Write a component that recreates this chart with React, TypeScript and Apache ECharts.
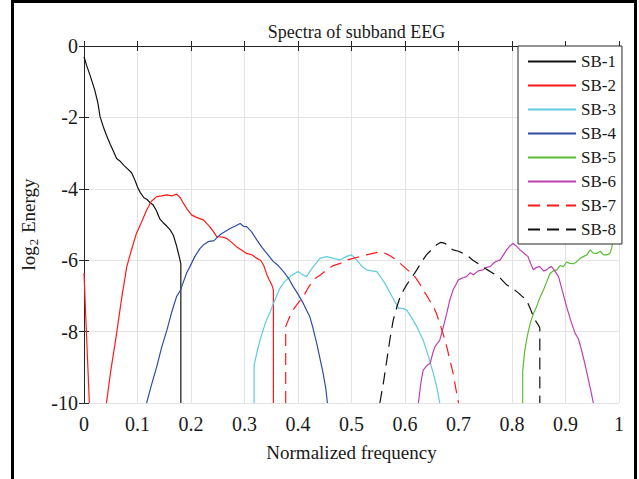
import React, { useEffect, useRef } from "react";
import * as echarts from "echarts";

const seriesNames = ["SB-1", "SB-2", "SB-3", "SB-4", "SB-5", "SB-6", "SB-7", "SB-8"];
const xTicks = [0, 0.1, 0.2, 0.3, 0.4, 0.5, 0.6, 0.7, 0.8, 0.9, 1];
const yTicks = [-10, -8, -6, -4, -2, 0];

const sb1X = [0, 0.005, 0.012, 0.02, 0.026, 0.03, 0.036, 0.042, 0.049, 0.055, 0.061, 0.067, 0.075, 0.082, 0.089, 0.095, 0.1, 0.105, 0.112, 0.118, 0.124, 0.129, 0.135, 0.142, 0.148, 0.155, 0.161, 0.167, 0.173, 0.178, 0.181, 0.181];
const sb1Y = [-0.3, -0.55, -0.85, -1.23, -1.6, -1.98, -2.26, -2.5, -2.75, -2.95, -3.15, -3.22, -3.35, -3.45, -3.55, -3.75, -3.95, -4.1, -4.25, -4.3, -4.4, -4.45, -4.6, -4.85, -4.95, -5.05, -5.15, -5.3, -5.6, -5.9, -6.1, -10];

// NaN marks a break in the line
const sb2X = [0, 0.005, 0.01, 0.026, 0.042, 0.05, 0.061, 0.07, 0.08, 0.088, 0.098, 0.107, 0.117, 0.126, 0.136, 0.145, 0.155, 0.164, 0.173, 0.18, 0.186, 0.194, 0.201, 0.21, 0.223, 0.235, 0.242, 0.248, 0.258, 0.267, 0.276, 0.285, 0.295, 0.304, 0.314, 0.323, 0.33, 0.336, 0.341, 0.346, 0.351, 0.354, 0.354];
const sb2Y = [-6.36, -8.2, -10, NaN, -10, -9.1, -8.05, -7.1, -6.18, -5.75, -5.25, -4.95, -4.6, -4.35, -4.22, -4.2, -4.17, -4.2, -4.15, -4.25, -4.41, -4.6, -4.73, -4.8, -4.87, -5.06, -5.2, -5.34, -5.35, -5.39, -5.5, -5.62, -5.72, -5.81, -5.85, -5.95, -6.0, -6.15, -6.37, -6.55, -6.69, -6.83, -10];

const sb3X = [0.318, 0.318, 0.323, 0.329, 0.335, 0.341, 0.348, 0.354, 0.36, 0.366, 0.375, 0.385, 0.393, 0.4, 0.408, 0.416, 0.425, 0.433, 0.441, 0.454, 0.466, 0.479, 0.49, 0.5, 0.51, 0.52, 0.528, 0.538, 0.547, 0.556, 0.566, 0.577, 0.588, 0.596, 0.603, 0.612, 0.622, 0.634, 0.644, 0.653, 0.66, 0.665];
const sb3Y = [-10, -8.94, -8.6, -8.24, -7.95, -7.68, -7.45, -7.21, -7.0, -6.79, -6.6, -6.46, -6.38, -6.32, -6.4, -6.46, -6.25, -6.1, -5.95, -5.9, -5.95, -5.99, -5.9, -5.85, -6.0, -6.18, -6.27, -6.3, -6.32, -6.5, -6.74, -7.05, -7.35, -7.35, -7.39, -7.6, -7.86, -8.24, -8.7, -9.17, -9.6, -10];

const sb4X = [0.117, 0.126, 0.136, 0.145, 0.155, 0.164, 0.173, 0.18, 0.186, 0.192, 0.198, 0.207, 0.217, 0.225, 0.232, 0.243, 0.254, 0.263, 0.273, 0.282, 0.292, 0.298, 0.304, 0.313, 0.323, 0.333, 0.344, 0.354, 0.363, 0.373, 0.382, 0.391, 0.4, 0.41, 0.416, 0.422, 0.428, 0.435, 0.441, 0.447, 0.452, 0.455];
const sb4Y = [-10, -9.5, -8.98, -8.45, -7.96, -7.45, -7.02, -6.85, -6.6, -6.35, -6.18, -5.9, -5.67, -5.55, -5.48, -5.45, -5.29, -5.2, -5.11, -5.05, -4.97, -5.05, -5.06, -5.2, -5.43, -5.65, -5.85, -6.04, -6.15, -6.32, -6.5, -6.74, -6.95, -7.21, -7.4, -7.58, -7.9, -8.33, -8.75, -9.17, -9.6, -10];

const sb5X = [0.82, 0.82, 0.824, 0.829, 0.834, 0.84, 0.846, 0.852, 0.859, 0.865, 0.871, 0.877, 0.884, 0.89, 0.896, 0.902, 0.908, 0.915, 0.921, 0.927, 0.933, 0.94, 0.946, 0.952, 0.958, 0.965, 0.971, 0.977, 0.983, 0.987, 0.993, 1];
const sb5Y = [-10, -9.1, -8.52, -8.1, -7.77, -7.5, -7.3, -7.05, -6.83, -6.6, -6.37, -6.3, -6.27, -6.15, -6.18, -6.05, -6.09, -6.1, -6.04, -5.95, -5.9, -5.85, -5.71, -5.8, -5.81, -5.75, -5.85, -5.85, -5.81, -5.62, -4.3, -2.86];

const sb6X = [0.625, 0.63, 0.634, 0.641, 0.647, 0.652, 0.656, 0.665, 0.671, 0.678, 0.684, 0.69, 0.7, 0.707, 0.715, 0.722, 0.728, 0.737, 0.746, 0.752, 0.759, 0.768, 0.778, 0.784, 0.79, 0.796, 0.802, 0.808, 0.815, 0.822, 0.83, 0.835, 0.84, 0.846, 0.852, 0.859, 0.865, 0.87, 0.874, 0.88, 0.887, 0.894, 0.902, 0.91, 0.918, 0.924, 0.93, 0.937, 0.943, 0.948, 0.952];
const sb6Y = [-10, -9.4, -9.08, -8.95, -8.89, -8.6, -8.42, -8.24, -7.9, -7.49, -7.1, -6.83, -6.55, -6.5, -6.46, -6.35, -6.41, -6.3, -6.27, -6.2, -6.18, -6.05, -5.99, -5.85, -5.71, -5.6, -5.53, -5.6, -5.71, -5.8, -5.9, -6.1, -6.27, -6.2, -6.18, -6.3, -6.27, -6.2, -6.18, -6.3, -6.46, -6.85, -7.3, -7.7, -8.05, -8.2, -8.52, -8.95, -9.36, -9.7, -10];

const sb7X = [0.377, 0.377, 0.384, 0.391, 0.4, 0.41, 0.42, 0.432, 0.443, 0.454, 0.466, 0.479, 0.49, 0.503, 0.515, 0.528, 0.542, 0.556, 0.569, 0.58, 0.591, 0.603, 0.616, 0.625, 0.634, 0.643, 0.653, 0.659, 0.665, 0.672, 0.678, 0.684, 0.69, 0.695, 0.7];
const sb7Y = [-10, -7.86, -7.6, -7.39, -7.2, -7.02, -6.75, -6.51, -6.4, -6.27, -6.15, -6.09, -6.0, -5.95, -5.9, -5.85, -5.8, -5.76, -5.85, -5.95, -6.09, -6.25, -6.41, -6.6, -6.83, -7.05, -7.3, -7.5, -7.77, -8.1, -8.42, -8.8, -9.17, -9.6, -10];

const sb8X = [0.553, 0.56, 0.566, 0.572, 0.578, 0.585, 0.591, 0.597, 0.603, 0.612, 0.622, 0.631, 0.64, 0.65, 0.659, 0.667, 0.675, 0.683, 0.69, 0.7, 0.715, 0.727, 0.74, 0.752, 0.765, 0.778, 0.79, 0.8, 0.809, 0.818, 0.827, 0.834, 0.84, 0.845, 0.849, 0.852, 0.852];
const sb8Y = [-10, -9.4, -8.8, -8.2, -7.68, -7.3, -7.02, -6.85, -6.69, -6.5, -6.27, -6.05, -5.85, -5.7, -5.57, -5.5, -5.53, -5.65, -5.71, -5.75, -5.85, -6.0, -6.13, -6.25, -6.37, -6.5, -6.69, -6.78, -6.88, -7.0, -7.11, -7.35, -7.58, -7.72, -7.81, -7.9, -10];

const allX = [sb1X, sb2X, sb3X, sb4X, sb5X, sb6X, sb7X, sb8X];
const allY = [sb1Y, sb2Y, sb3Y, sb4Y, sb5Y, sb6Y, sb7Y, sb8Y];
const colors = ["#111111", "#ff1a1a", "#5fcbdf", "#2f4ea3", "#5cbd34", "#c03fb0", "#ff1a1a", "#111111"];
const dashed = [false, false, false, false, false, false, true, true];

const FONT = "Liberation Serif, Times New Roman, serif";

export default function App() {
  const ref = useRef<HTMLDivElement>(null);
  useEffect(() => {
    if (!ref.current) return;
    const chart = echarts.init(ref.current, null, { renderer: "svg" });
    const series = seriesNames.map((name, i) => ({
      name,
      type: "line",
      data: allX[i].map((x, j) => [x, isNaN(allY[i][j]) ? "-" : allY[i][j]]),
      showSymbol: false,
      symbol: "none",
      connectNulls: false,
      clip: true,
      lineStyle: {
        color: colors[i],
        width: 1.2,
        type: dashed[i] ? [12, 7] : "solid",
      },
      itemStyle: { color: colors[i] },
      emphasis: { disabled: true },
      z: 2 + i * 0.01,
    }));
    const axisColor = "#262626";
    chart.setOption({
      animation: false,
      backgroundColor: "#ffffff",
      title: {
        text: "Spectra of subband EEG",
        left: 351.5,
        textAlign: "center",
        top: 18,
        textStyle: { fontFamily: FONT, fontSize: 18, fontWeight: "normal", color: "#1a1a1a" },
      },
      legend: {
        orient: "vertical",
        left: 518,
        top: 46,
        padding: [7, 6, 6, 9],
        itemWidth: 48,
        itemHeight: 14,
        itemGap: 7,
        backgroundColor: "#ffffff",
        borderColor: "#262626",
        borderWidth: 1,
        borderRadius: 0,
        itemStyle: { opacity: 0 },
        textStyle: { fontFamily: FONT, fontSize: 17, color: "#1a1a1a", width: 30, overflow: "none" },
        data: seriesNames,
        z: 10,
      },
      grid: { left: 84, right: 20, top: 46, bottom: 76, containLabel: false },
      xAxis: [
        {
          type: "value",
          min: xTicks[0],
          max: xTicks[xTicks.length - 1],
          interval: 0.1,
          position: "bottom",
          name: "Normalized frequency",
          nameLocation: "middle",
          nameGap: 40,
          nameTextStyle: { fontFamily: FONT, fontSize: 19, color: "#1a1a1a" },
          axisLine: { show: true, lineStyle: { color: axisColor, width: 1 } },
          axisTick: { show: true, inside: true, length: 5, lineStyle: { color: axisColor } },
          axisLabel: { margin: 11, fontFamily: FONT, fontSize: 20, color: "#1a1a1a" },
          splitLine: { show: true, lineStyle: { color: "#e3e3e3", width: 1 } },
        },
        {
          type: "value",
          min: xTicks[0],
          max: xTicks[xTicks.length - 1],
          interval: 0.1,
          position: "top",
          axisLine: { show: true, lineStyle: { color: axisColor, width: 1 } },
          axisTick: { show: true, inside: true, length: 5, lineStyle: { color: axisColor } },
          axisLabel: { show: false },
          splitLine: { show: false },
        },
      ],
      yAxis: [
        {
          type: "value",
          min: yTicks[0],
          max: yTicks[yTicks.length - 1],
          interval: 2,
          position: "left",
          name: "{a|log}{s|2}{a| Energy}",
          nameLocation: "middle",
          nameRotate: 90,
          nameGap: 35,
          nameTextStyle: {
            fontFamily: FONT,
            fontSize: 19,
            color: "#1a1a1a",
            rich: {
              a: { fontFamily: FONT, fontSize: 19, color: "#1a1a1a" },
              s: { fontFamily: FONT, fontSize: 13, color: "#1a1a1a", padding: [10, 1, 0, 1] },
            },
          },
          axisLine: { show: true, lineStyle: { color: axisColor, width: 1 } },
          axisTick: { show: true, inside: true, length: 5, lineStyle: { color: axisColor } },
          axisLabel: { margin: 6, fontFamily: FONT, fontSize: 20, color: "#1a1a1a" },
          splitLine: { show: true, lineStyle: { color: "#e3e3e3", width: 1 } },
        },
        {
          type: "value",
          min: yTicks[0],
          max: yTicks[yTicks.length - 1],
          interval: 2,
          position: "right",
          axisLine: { show: true, lineStyle: { color: axisColor, width: 1 } },
          axisTick: { show: true, inside: true, length: 5, lineStyle: { color: axisColor } },
          axisLabel: { show: false },
          splitLine: { show: false },
        },
      ],
      series,
      graphic: [
        { type: "rect", shape: { x: 11, y: 0, width: 3, height: 479 }, style: { fill: "#000" }, z: 100 },
        { type: "rect", shape: { x: 634, y: 0, width: 3, height: 479 }, style: { fill: "#000" }, z: 100 },
        { type: "rect", shape: { x: 11, y: 0, width: 626, height: 3 }, style: { fill: "#000" }, z: 100 },
      ],
    });
    return () => chart.dispose();
  }, []);
  return (
    <div
      ref={ref}
      style={{ position: "fixed", left: 0, top: 0, width: 639, height: 479, background: "#fff" }}
    />
  );
}
